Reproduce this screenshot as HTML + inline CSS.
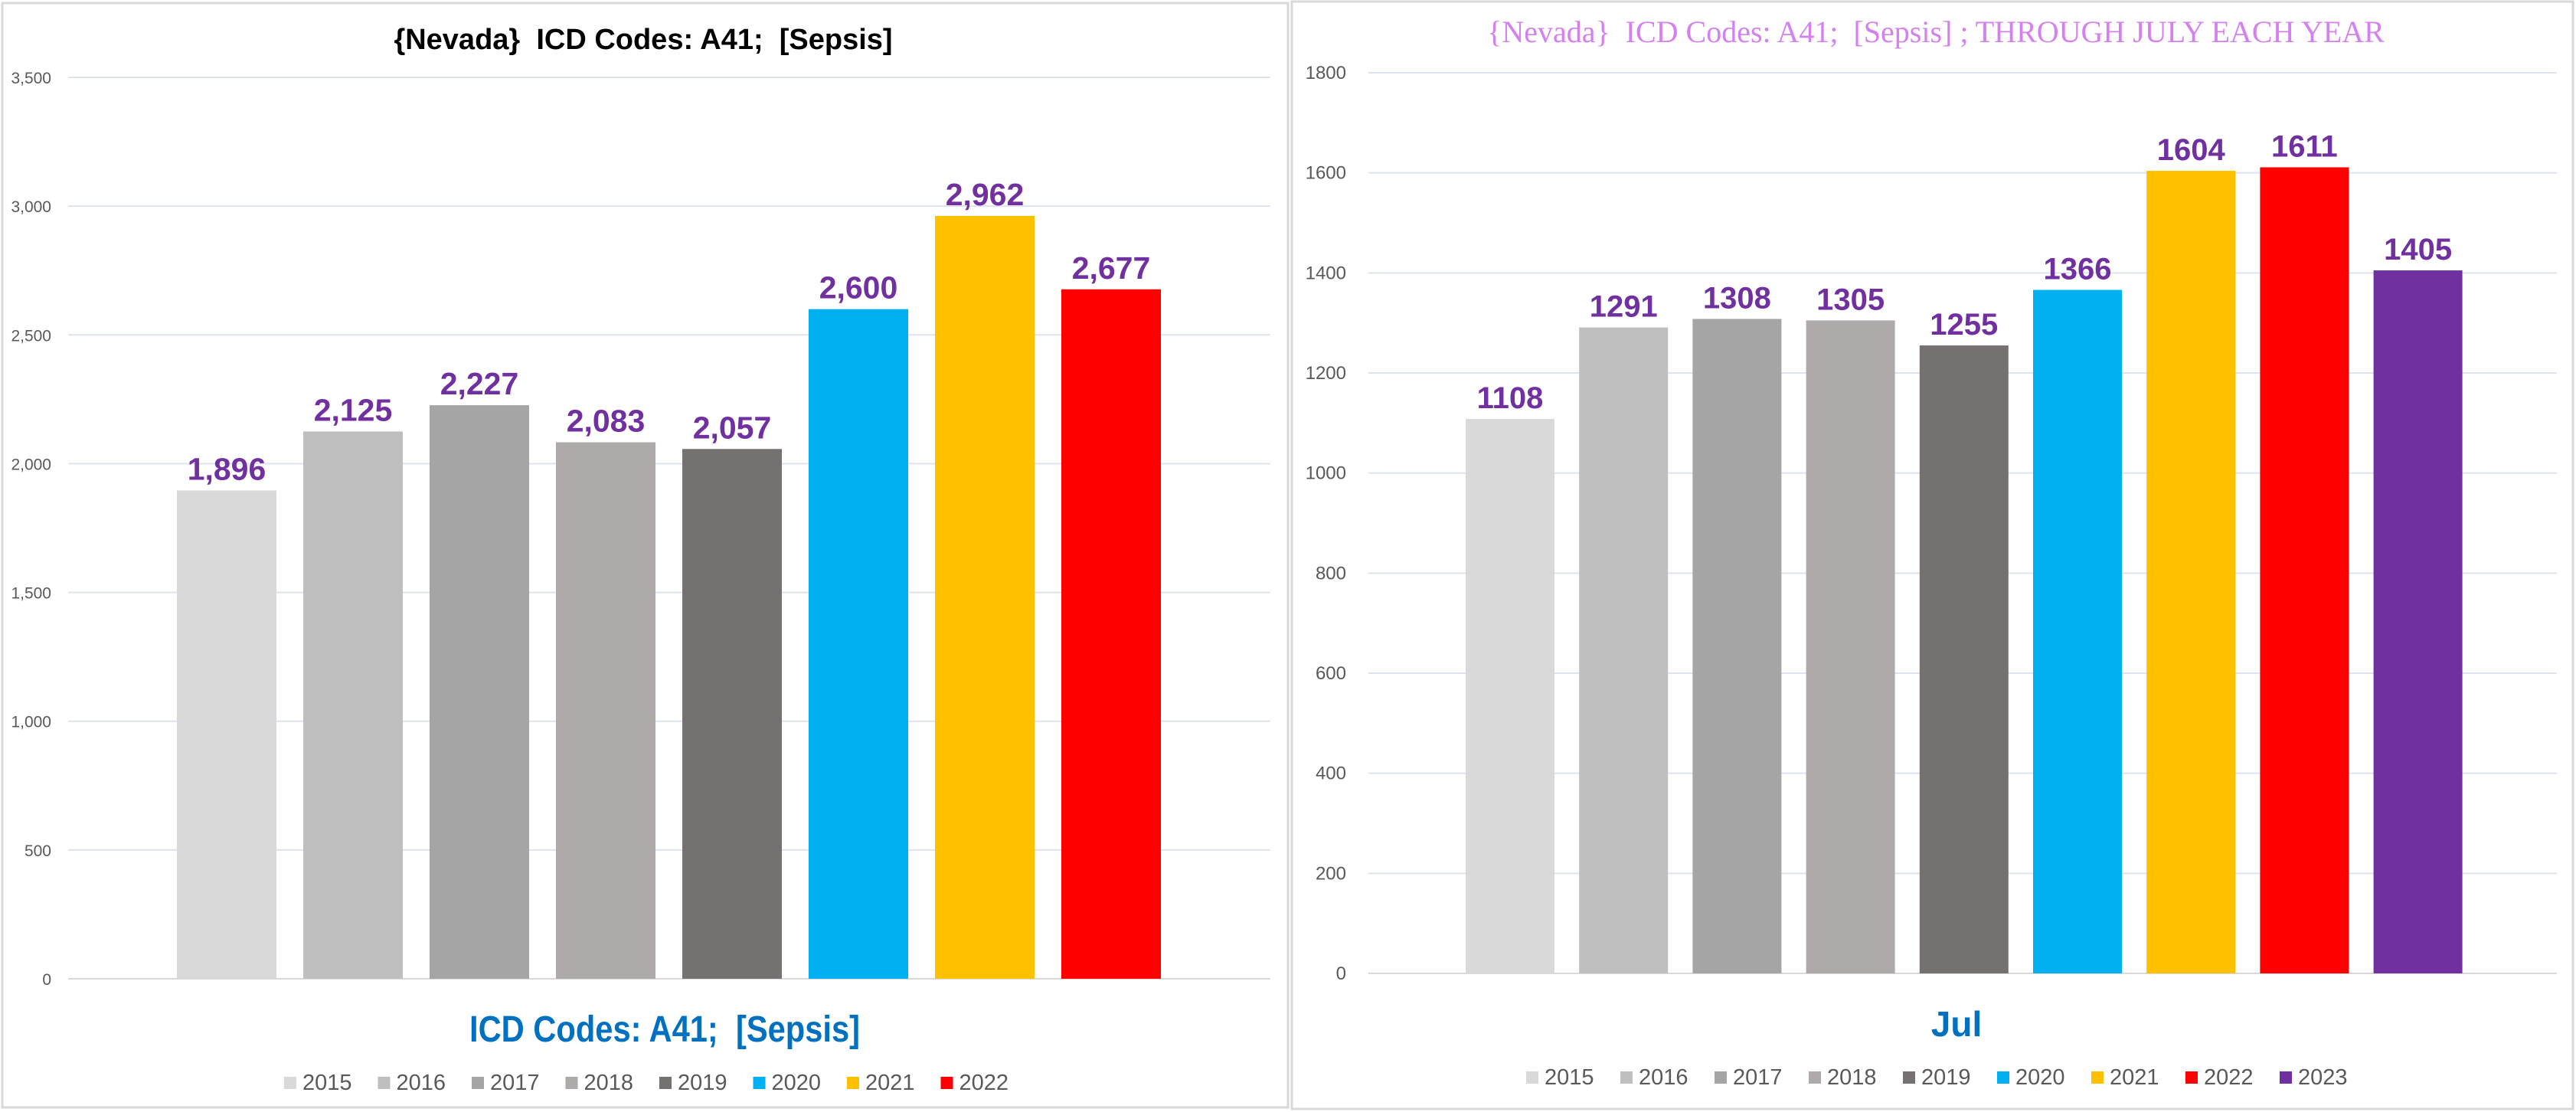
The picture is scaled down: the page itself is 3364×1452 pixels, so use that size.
<!DOCTYPE html>
<html><head><meta charset="utf-8"><style>
html,body{margin:0;padding:0;background:#fff;width:3364px;height:1452px;overflow:hidden}
svg{display:block}
text{font-family:"Liberation Sans",sans-serif;white-space:pre}
</style></head><body>
<svg id="s" width="3364" height="1452" viewBox="0 0 3364 1452" xmlns="http://www.w3.org/2000/svg" xml:space="preserve">
<rect x="3" y="4" width="1679" height="1442" fill="#fff" stroke="#d9d9d9" stroke-width="3"/>
<rect x="1687" y="2" width="1673" height="1446" fill="#fff" stroke="#d9d9d9" stroke-width="3"/>
<text x="840" y="64" text-anchor="middle" font-size="38" font-weight="bold" fill="#000">{Nevada}  ICD Codes: A41;  [Sepsis]</text>
<text x="2528" y="55" text-anchor="middle" font-size="40" fill="#d580f0" style="font-family:'Liberation Serif',serif">{Nevada}  ICD Codes: A41;  [Sepsis] ; THROUGH JULY EACH YEAR</text>
<text x="868" y="1360" text-anchor="middle" font-size="48" font-weight="bold" fill="#0070c0" textLength="510" lengthAdjust="spacingAndGlyphs">ICD Codes: A41;  [Sepsis]</text>
<text x="2555" y="1353" text-anchor="middle" font-size="46" font-weight="bold" fill="#0070c0">Jul</text>
<g id="L"></g><g id="R"></g>
</svg>
<script>
const leftYears=["2015","2016","2017","2018","2019","2020","2021","2022"];
const leftValues=[1896,2125,2227,2083,2057,2600,2962,2677];
const leftTicks=[0,500,1000,1500,2000,2500,3000,3500];
const leftTickLabels=["0","500","1,000","1,500","2,000","2,500","3,000","3,500"];
const rightYears=["2015","2016","2017","2018","2019","2020","2021","2022","2023"];
const rightValues=[1108,1291,1308,1305,1255,1366,1604,1611,1405];
const rightTicks=[0,200,400,600,800,1000,1200,1400,1600,1800];
const rightTickLabels=["0","200","400","600","800","1000","1200","1400","1600","1800"];
const colors=["#d9d9d9","#bfbfbf","#a5a5a5","#aeaaaa","#767171","#00b0f0","#ffc000","#ff0000","#7030a0"];
const NS="http://www.w3.org/2000/svg";
function mk(p,t,a){const e=document.createElementNS(NS,t);for(const k in a)e.setAttribute(k,a[k]);p.appendChild(e);return e;}
function draw(g,cfg){
  const y=v=>cfg.y0-(v/cfg.max)*(cfg.y0-cfg.yTop);
  cfg.ticks.forEach((t,i)=>{
    const l=mk(g,"line",{x1:cfg.px0,x2:cfg.px1,y1:y(t),y2:y(t),stroke:i==0?"#d9d9d9":"#dfe3f0","stroke-width":2});
    
    
    const tx=mk(g,"text",{x:cfg.tickX,y:y(t)+8,"text-anchor":"end","font-size":cfg.tickFont,fill:"#595959"});
    tx.textContent=cfg.tickLabels[i];
    
    
  });
  cfg.values.forEach((v,i)=>{
    const x=cfg.bx0+i*cfg.pitch;
    const r=mk(g,"rect",{x:x,y:y(v),width:cfg.bw,height:cfg.y0-y(v),fill:colors[i]});
    
    
    const t=mk(g,"text",{x:x+cfg.bw/2,y:y(v)-14,"text-anchor":"middle","font-size":cfg.labFont,"font-weight":"bold",fill:"#7030a0"});
    t.textContent=cfg.fmt(v);
    
    
    const lx=cfg.lx0+i*cfg.lpitch;
    const sq=mk(g,"rect",{x:lx,y:cfg.ly-17,width:16,height:16,fill:colors[i]});
    
    
    const lt=mk(g,"text",{x:lx+24,y:cfg.ly,"font-size":29,fill:"#595959"});
    lt.textContent=cfg.years[i];
    
    
  });
}
draw(document.getElementById("L"),{years:leftYears,values:leftValues,ticks:leftTicks,tickLabels:leftTickLabels,max:3500,y0:1278,yTop:101,px0:89,px1:1659,tickX:67,tickFont:21,bx0:231,pitch:165,bw:130,labFont:41,fmt:v=>v.toLocaleString("en-US"),lx0:371,lpitch:122.5,ly:1423});
draw(document.getElementById("R"),{years:rightYears,values:rightValues,ticks:rightTicks,tickLabels:rightTickLabels,max:1800,y0:1271,yTop:95,px0:1787,px1:3339,tickX:1758,tickFont:24,bx0:1914,pitch:148.2,bw:116,labFont:40,fmt:v=>String(v),lx0:1993,lpitch:123,ly:1416});
</script>
</body></html>
